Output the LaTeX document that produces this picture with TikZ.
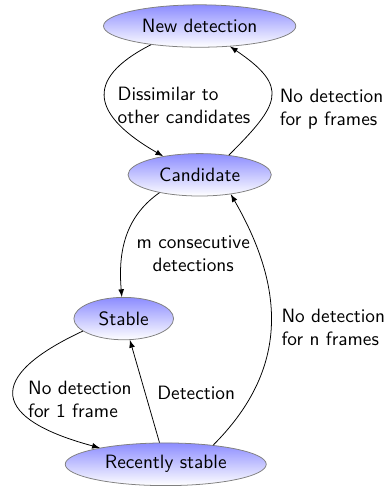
\documentclass[tikz,border=0pt]{standalone}
\usepackage{tikz}
\usetikzlibrary{positioning, shapes.geometric}

\begin{document}
\begin{tikzpicture}[every node/.style={font=\sffamily}, on grid]

  \tikzstyle{state}=[ellipse, draw=gray, top color=blue!45, bottom color=white, align=center, inner xsep=5.3pt, minimum height=22pt]
  \tikzstyle{cond}=[align=left]

  \node [state] (new) {New detection};
  \node [state, below = 77.2pt of new] (cand) {Candidate};
  \node [state, below left = 74.6pt and 39.4pt of cand] (stable) {Stable};
  \node [state, below right = 75.6pt and 21.8pt of stable] (recent) {Recently stable};

  \useasboundingbox (new.center) ++(-103.6pt,13.5pt) rectangle ++(202pt,-251.8pt);

  \draw [-latex] (new.201) to[out=207, in=150, looseness=1.8] node[cond, midway, right=3pt, yshift=-3.5pt] {Dissimilar to\\other candidates} (cand.153);
  \draw [-latex] (cand.34) to[out=45, in=-34, looseness=1.7] node[cond, midway, right=1pt, yshift=-6.5pt] {No detection\\for p frames} (new.-34);
  \draw [-latex] (cand.204) to[out=215, in=95] node[midway, right=2pt, yshift=-8pt, align=center] {m consecutive\\detections} (stable.95);
  \draw [-latex] (recent.22) to[out=45, in=-60, looseness=1.1] node[cond, midway, right=2pt, yshift=-0.5pt] {No detection\\for n frames} (cand.-32);
  \draw [-latex] (stable.197) to[out=205, in=165, looseness=2.4] node[cond, midway, right=4pt, yshift=-1.5pt] {No detection\\for 1 frame} (recent.166);
  \draw [-latex] (recent) -- node[midway, right=3pt, yshift=-1pt] {Detection} (stable);

\end{tikzpicture}
\end{document}
